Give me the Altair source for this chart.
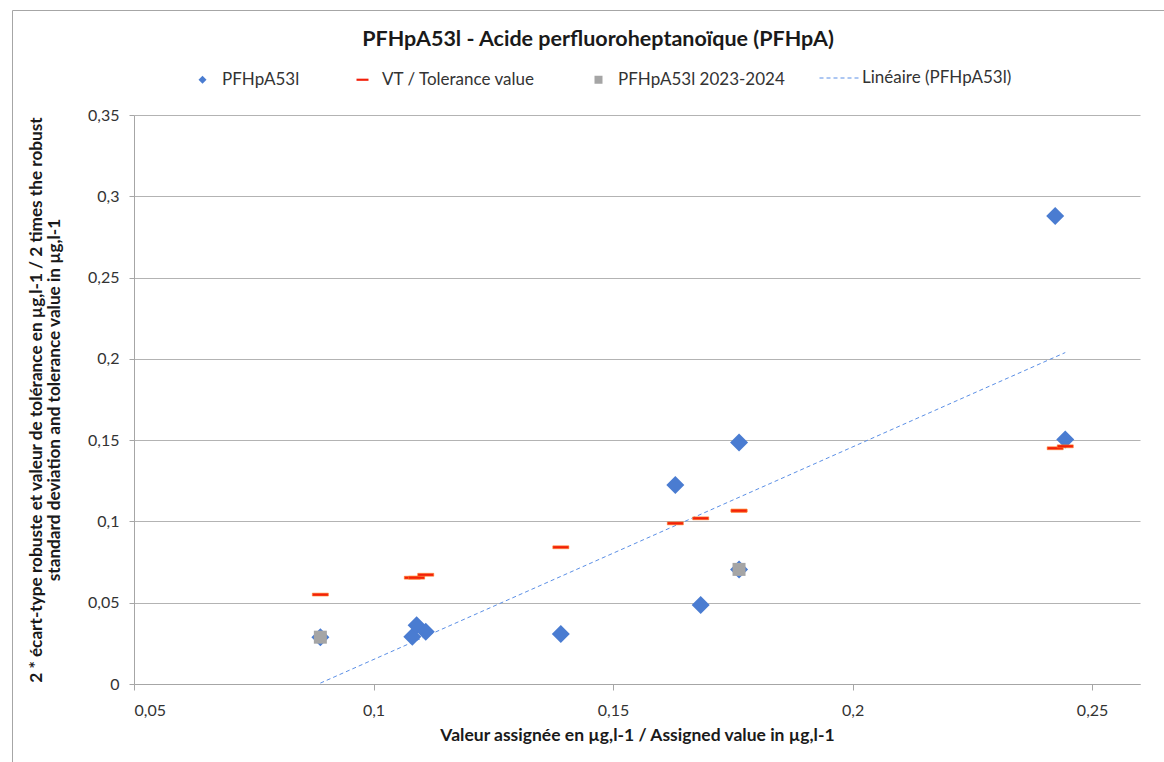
import altair as alt
import pandas as pd

# ---- data ----
assigned = [0.0889, 0.1081, 0.1090, 0.1109, 0.1391, 0.1630, 0.1683, 0.1763, 0.1763, 0.2423, 0.2444]
robust_2sd = [0.0288, 0.0290, 0.0362, 0.0321, 0.0307, 0.1224, 0.0486, 0.1485, 0.0705, 0.2878, 0.1504]
tolerance = [0.0550, 0.0654, 0.0654, 0.0672, 0.0841, 0.0988, 0.1019, 0.1066, 0.1066, 0.1450, 0.1462]
recent_x = [0.0889, 0.1763]
recent_y = [0.0288, 0.0705]

x_ticks = [0.05, 0.10, 0.15, 0.20, 0.25]
y_ticks = [0, 0.05, 0.10, 0.15, 0.20, 0.25, 0.30, 0.35]

S_MAIN = "PFHpA53l"
S_VT = "VT / Tolerance value"
S_REC = "PFHpA53l 2023-2024"
S_LIN = "Linéaire (PFHpA53l)"
SERIES = [S_MAIN, S_VT, S_REC]

BLUE = "#4a7cd1"
RED = "#f2200a"
GRAY = "#a5a5a5"
LINE_BLUE = "#5b8fe6"
FONT = "Lato"

DASH_PATH = "M-1.5,-0.27H1.5V0.27H-1.5Z"

df = pd.concat([
    pd.DataFrame({"x": assigned, "y": robust_2sd, "series": S_MAIN}),
    pd.DataFrame({"x": assigned, "y": tolerance, "series": S_VT}),
    pd.DataFrame({"x": recent_x, "y": recent_y, "series": S_REC}),
], ignore_index=True)

label_expr = "replace(format(datum.value, '.2~f'), '.', ',')"

x_enc = alt.X(
    "x:Q",
    scale=alt.Scale(domain=[0.05, 0.26], nice=False, zero=False),
    axis=alt.Axis(
        values=x_ticks, labelExpr=label_expr, grid=False,
        title="Valeur assignée en µg,l-1 / Assigned value in µg,l-1",
        domainColor="#a6a6a6", tickColor="#a6a6a6", tickSize=6,
        labelFont=FONT, labelFontSize=16, labelColor="#333333", labelPadding=12,
        titleFont=FONT, titleFontSize=17.5, titleFontWeight="bold", titleColor="#1a1a1a",
        titlePadding=8,
    ),
)
y_enc = alt.Y(
    "y:Q",
    scale=alt.Scale(domain=[0, 0.35], nice=False),
    axis=alt.Axis(
        values=y_ticks, labelExpr=label_expr, grid=True, gridColor="#b3b3b3",
        title=["2 * écart-type robuste et valeur de tolérance en µg,l-1 / 2 times the robust",
               "standard deviation and tolerance value in µg,l-1"],
        domainColor="#a6a6a6", tickColor="#a6a6a6", tickSize=5,
        labelFont=FONT, labelFontSize=16, labelColor="#333333", labelPadding=10,
        titleFont=FONT, titleFontSize=17.2, titleFontWeight="bold", titleColor="#1a1a1a",
        titlePadding=24, titleLineHeight=18,
    ),
)

pt_legend = alt.Legend(
    title=None, orient="none", legendX=60, legendY=-44, direction="horizontal",
    symbolSize=64, labelFont=FONT, labelFontSize=17, labelColor="#333333",
    labelOffset=11, columnPadding=54, padding=0, symbolStrokeWidth=0, labelLimit=400,
)
color_enc = alt.Color("series:N", scale=alt.Scale(domain=SERIES, range=[BLUE, RED, GRAY]), legend=pt_legend)
shape_enc = alt.Shape("series:N", scale=alt.Scale(domain=SERIES, range=["diamond", DASH_PATH, "square"]), legend=pt_legend)

base = alt.Chart(df)

# outer chart-area frame (decoration, like the spreadsheet chart border)
frame = alt.Chart(df).mark_rect(fill=None, stroke="#a6a6a6", strokeWidth=1).encode(
    x=alt.value(-121.5), x2=alt.value(1100), y=alt.value(-104.5), y2=alt.value(700)
).transform_filter(alt.datum.series == S_REC).transform_aggregate(n="count()")

trend = (
    base.transform_filter(alt.datum.series == S_MAIN)
    .transform_regression("x", "y")
    .transform_calculate(trend=f"'{S_LIN}'")
    .mark_line(color=LINE_BLUE, strokeWidth=1)
    .encode(
        x=x_enc, y=y_enc,
        strokeDash=alt.StrokeDash(
            "trend:N",
            scale=alt.Scale(domain=[S_LIN], range=[[4, 3]]),
            legend=alt.Legend(
                title=None, orient="none", legendX=685, legendY=-57,
                symbolType="stroke", symbolSize=1521, symbolStrokeColor=LINE_BLUE,
                symbolStrokeWidth=1, labelFont=FONT, labelFontSize=17,
                labelColor="#333333", labelOffset=3, padding=0, labelLimit=400,
            ),
        ),
    )
)

diamonds = base.transform_filter(alt.datum.series == S_MAIN).mark_point(
    filled=True, size=324, opacity=1).encode(x=x_enc, y=y_enc, color=color_enc, shape=shape_enc)
dashes = base.transform_filter(alt.datum.series == S_VT).mark_point(
    filled=True, size=114, opacity=1, stroke="#ff7f27", strokeWidth=0.6).encode(
    x=x_enc, y=y_enc, color=color_enc, shape=shape_enc)
squares = base.transform_filter(alt.datum.series == S_REC).mark_point(
    filled=True, size=169, opacity=1).encode(x=x_enc, y=y_enc, color=color_enc, shape=shape_enc)

chart = (
    alt.layer(frame, trend, diamonds, dashes, squares)
    .properties(
        width=1006, height=569,
        title=alt.Title(
            "PFHpA53l - Acide perfluoroheptanoïque (PFHpA)",
            font=FONT, fontSize=21.5, fontWeight="bold", color="#1a1a1a",
            anchor="middle", dx=-39, offset=6, dy=46,
        ),
        autosize=alt.AutoSizeParams(type="none"),
        padding={"left": 134, "top": 115, "right": 24, "bottom": 78},
        background="white",
    )
    .configure_view(stroke=None)
)

chart.save("out.html", embed_options={"renderer": "svg", "actions": False})
